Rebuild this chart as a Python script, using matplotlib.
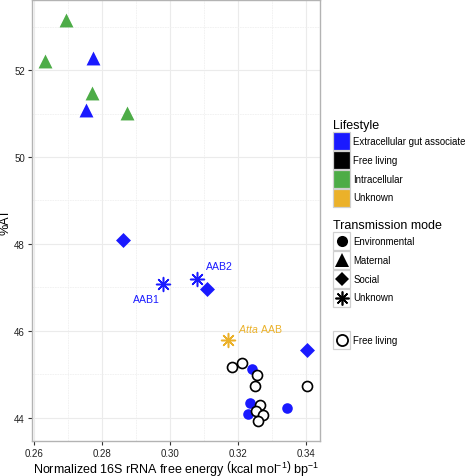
import matplotlib
matplotlib.use("Agg")
import matplotlib.pyplot as plt
from matplotlib.patches import Rectangle
from matplotlib.lines import Line2D
from matplotlib.legend_handler import HandlerBase

plt.rcParams['font.family'] = ['Liberation Sans', 'DejaVu Sans']
plt.rcParams['mathtext.fontset'] = 'custom'
plt.rcParams['mathtext.rm'] = 'Liberation Sans'
plt.rcParams['mathtext.it'] = 'Liberation Sans:italic'

# colours per lifestyle
blue = "#1a1aff"
green = "#4dac47"
orange = "#ebb12a"

# Intracellular, maternal
green_tri_x = [0.2694, 0.2632, 0.2771, 0.2874]
green_tri_y = [53.15, 52.20, 51.48, 51.02]

# Extracellular gut associate, maternal
blue_tri_x = [0.2774, 0.2753]
blue_tri_y = [52.27, 51.09]

# Extracellular gut associate, social
blue_dia_x = [0.2862, 0.3108, 0.3402]
blue_dia_y = [48.09, 46.97, 45.57]

# Extracellular gut associate, environmental
blue_circ_x = [0.3240, 0.3235, 0.3230, 0.3343]
blue_circ_y = [45.13, 44.34, 44.09, 44.22]

# Extracellular gut associate, unknown (AAB1, AAB2)
blue_ast_x = [0.2980, 0.3079]
blue_ast_y = [47.08, 47.20]
blue_ast_lab = ["AAB1", "AAB2"]

# Unknown lifestyle (Atta AAB)
orange_ast_x = [0.3170]
orange_ast_y = [45.79]

# Free living, open circles
free_x = [0.3183, 0.3211, 0.3255, 0.3250, 0.3265, 0.3253, 0.3274, 0.3260, 0.3402]
free_y = [45.17, 45.26, 44.99, 44.74, 44.30, 44.17, 44.07, 43.94, 44.73]

life_labels = ["Extracellular gut associate", "Free living", "Intracellular", "Unknown"]
life_colors = [blue, "black", green, orange]
mode_labels = ["Environmental", "Maternal", "Social", "Unknown"]
mode_markers = ["o", "^", "D", (8, 2, 0)]

fig = plt.figure(figsize=(4.72, 4.77), dpi=100)
ax = fig.add_axes([0.0678, 0.0734, 0.6102, 0.9236])

ax.set_xlim(0.2594, 0.3441)
ax.set_ylim(43.47, 53.6)
ax.set_xticks([0.26, 0.28, 0.30, 0.32, 0.34])
ax.set_xticklabels(["0.26", "0.28", "0.30", "0.32", "0.34"])
ax.set_yticks([44, 46, 48, 50, 52])
ax.set_xticks([0.27, 0.29, 0.31, 0.33], minor=True)
ax.set_yticks([45, 47, 49, 51, 53], minor=True)
ax.grid(which="major", color="#ebebeb", lw=0.8)
ax.grid(which="minor", color="#f0f0f0", lw=0.6, ls=(0, (2, 1)))
ax.set_axisbelow(True)
for s in ax.spines.values():
    s.set_color("#b3b3b3")
    s.set_linewidth(1.0)
ax.tick_params(which="major", length=3, width=0.8, color="#333333",
               labelsize=7, labelcolor="#222222", pad=2)
ax.tick_params(which="minor", length=0)

ax.scatter(green_tri_x, green_tri_y, marker="^", s=100, color=green, lw=0, zorder=3)
ax.scatter(blue_tri_x, blue_tri_y, marker="^", s=100, color=blue, lw=0, zorder=3)
ax.scatter(blue_dia_x, blue_dia_y, marker="D", s=58, color=blue, lw=0, zorder=3)
ax.scatter(blue_circ_x, blue_circ_y, marker="o", s=58, color=blue, lw=0, zorder=3)
ax.scatter(free_x, free_y, marker="o", s=52, facecolor="white", edgecolor="black",
           lw=1.2, zorder=4)
ax.scatter(blue_ast_x, blue_ast_y, marker=(8, 2, 0), s=100, color=blue, lw=1.1, zorder=3)
ax.scatter(orange_ast_x, orange_ast_y, marker=(8, 2, 0), s=100, color=orange, lw=1.1, zorder=3)

ax.annotate(blue_ast_lab[0], (blue_ast_x[0], blue_ast_y[0]), xytext=(-12, -11),
            textcoords="offset points", color=blue, fontsize=7.6, ha="center", va="center")
ax.annotate(blue_ast_lab[1], (blue_ast_x[1], blue_ast_y[1]), xytext=(16, 9),
            textcoords="offset points", color=blue, fontsize=7.6, ha="center", va="center")
ax.annotate(r"$\it{Atta}$ AAB", (orange_ast_x[0], orange_ast_y[0]), xytext=(23, 9),
            textcoords="offset points", color=orange, fontsize=7.6, ha="center", va="center")

ax.set_ylabel("%AT", fontsize=9, labelpad=3)
ax.set_xlabel(r"Normalized 16S rRNA free energy $\left(\mathrm{kcal\ mol^{-1}}\right)\ \mathrm{bp^{-1}}$",
              fontsize=9, labelpad=0)
ax.yaxis.set_label_coords(-0.072, 0.5)


class BoxHandler(HandlerBase):
    def __init__(self, face="white", marker=None, msize=8, mew=0.0, mface="black"):
        super().__init__()
        self.face = face
        self.marker = marker
        self.msize = msize
        self.mew = mew
        self.mface = mface

    def create_artists(self, legend, orig_handle, xdescent, ydescent, width, height,
                       fontsize, trans):
        side = height
        x0 = -xdescent + (width - side) / 2
        rect = Rectangle((x0, -ydescent), side, side, facecolor=self.face,
                         edgecolor="#d0d0d0", lw=0.9, transform=trans)
        arts = [rect]
        if self.marker is not None:
            m = Line2D([x0 + side / 2], [-ydescent + side / 2], marker=self.marker,
                       markersize=self.msize, color="black", markerfacecolor=self.mface,
                       markeredgecolor="black", markeredgewidth=self.mew, transform=trans)
            arts.append(m)
        return arts


leg_kw = dict(loc="upper left", frameon=False, fontsize=6.9, title_fontsize=9,
              handlelength=1.78, handleheight=2.5, handletextpad=0.35,
              labelspacing=0.1, borderpad=0, borderaxespad=0, alignment="left")

h1 = [Rectangle((0, 0), 1, 1) for _ in life_labels]
hm1 = {h: BoxHandler(face=c) for h, c in zip(h1, life_colors)}
leg1 = fig.legend(h1, life_labels, title="Lifestyle", handler_map=hm1,
                  bbox_to_anchor=(333 / 472, 1 - 120 / 477), **leg_kw)

h2 = [Rectangle((0, 0), 1, 1) for _ in mode_labels]
msizes = [8, 9.5, 7.5, 10]
mews = [0, 0, 0, 1.2]
hm2 = {h: BoxHandler(marker=m, msize=s, mew=w) for h, m, s, w in zip(h2, mode_markers, msizes, mews)}
leg2 = fig.legend(h2, mode_labels, title="Transmission mode", handler_map=hm2,
                  bbox_to_anchor=(333 / 472, 1 - 220 / 477), **leg_kw)

h3 = [Rectangle((0, 0), 1, 1)]
hm3 = {h3[0]: BoxHandler(marker="o", msize=8, mew=1.3, mface="white")}
leg3 = fig.legend(h3, ["Free living"], handler_map=hm3,
                  bbox_to_anchor=(333 / 472, 1 - 332 / 477), **leg_kw)

fig.savefig("out.png", dpi=100)
